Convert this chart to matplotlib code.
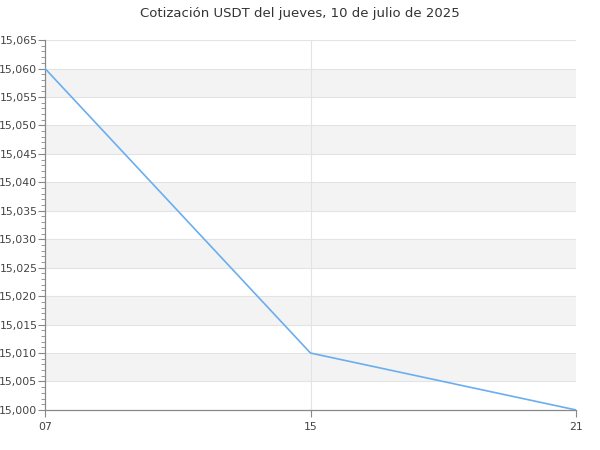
import matplotlib.pyplot as plt
from matplotlib.ticker import MultipleLocator, FuncFormatter

# datos de la cotización
horas = ["07", "15", "21"]
precios = [15.060, 15.010, 15.000]

y_min, y_max, paso = 15.000, 15.065, 0.005

fig = plt.figure(figsize=(6, 4.5), dpi=100)
ax = fig.add_axes([0.075, 0.089, 0.885, 0.822])

x = list(range(len(horas)))

# bandas alternas
n = round((y_max - y_min) / paso)
for i in range(n):
    lo = y_min + i * paso
    if i % 2 == 1:
        ax.axhspan(lo, lo + paso, color="#f3f3f3", zorder=0, lw=0)
for i in range(1, n + 1):
    ax.axhline(y_min + i * paso, color="#e3e3e3", lw=0.8, zorder=1)
ax.axvline(1, color="#e3e3e3", lw=0.8, zorder=1)

ax.plot(x, precios, color="#6aaef0", lw=1.2, zorder=3)

ax.set_xlim(0, len(horas) - 1)
ax.set_ylim(y_min, y_max)
ax.set_xticks(x)
ax.set_xticklabels(horas)
ax.yaxis.set_major_locator(MultipleLocator(paso))
ax.yaxis.set_minor_locator(MultipleLocator(0.001))
ax.yaxis.set_major_formatter(FuncFormatter(lambda v, p: f"{v:.3f}".replace(".", ",")))

for s in ["top", "right"]:
    ax.spines[s].set_visible(False)
for s in ["left", "bottom"]:
    ax.spines[s].set_color("#888888")
    ax.spines[s].set_linewidth(0.9)

ax.tick_params(axis="y", which="major", length=5, color="#888888", labelsize=7.8, labelcolor="#444444", pad=0.5)
ax.tick_params(axis="y", which="minor", length=3, color="#888888")
ax.tick_params(axis="x", length=5, color="#888888", labelsize=7.8, labelcolor="#444444", pad=4)

fig.suptitle("Cotización USDT del jueves, 10 de julio de 2025", y=0.985, fontsize=9.5, color="#333333")

fig.savefig("out.png", dpi=100)
